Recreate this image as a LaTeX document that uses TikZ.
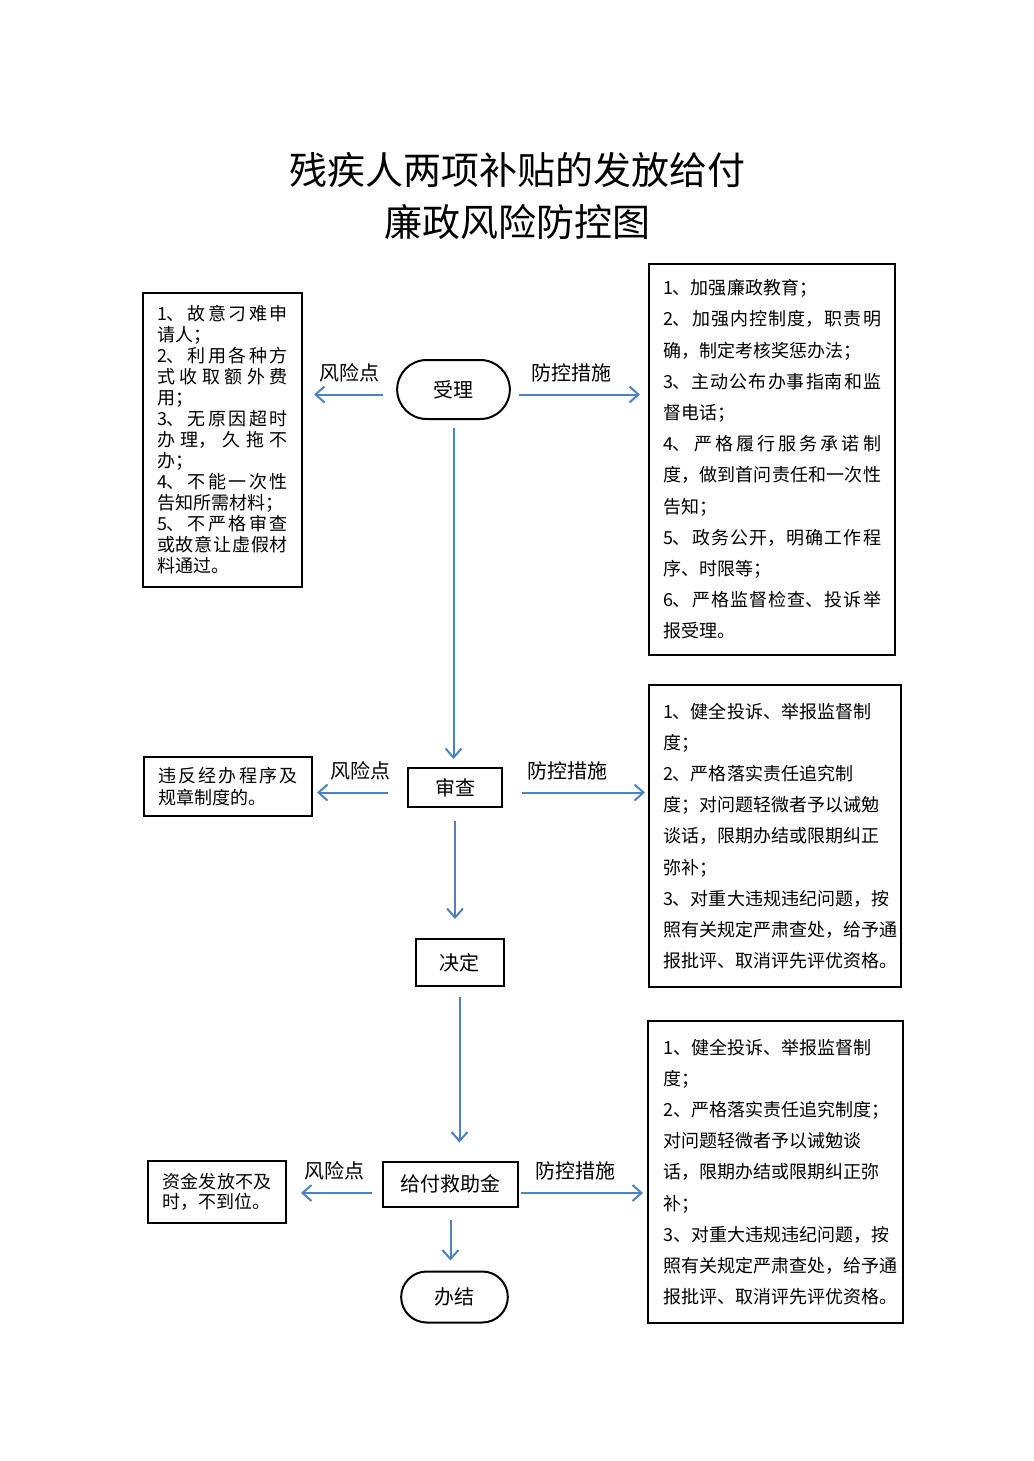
\documentclass[tikz,border=0pt]{standalone}
\usepackage{fontspec}
\usepackage{xcolor}
\setmainfont{Noto Sans CJK SC}
\usetikzlibrary{arrows.meta,shapes.misc}
\definecolor{bleu}{HTML}{4F81BD}
\XeTeXlinebreaklocale "zh"
\XeTeXlinebreakskip=0pt plus 2pt
\tolerance=10000

\begin{document}
\begin{tikzpicture}[x=0.5pt,y=-0.5pt,
   etape/.style={rectangle,draw,line width=1pt,font=\fontsize{10pt}{12pt}\selectfont},
   terminal/.style={rounded rectangle,draw,line width=1pt,font=\fontsize{10pt}{12pt}\selectfont},
   point risque/.style={draw,line width=1pt,inner xsep=7pt,inner ysep=0pt,align=justify},
   mesures/.style={draw,line width=1pt,inner xsep=7pt,inner ysep=0pt,align=justify,font=\fontsize{9pt}{15.6pt}\selectfont},
   mesures libres/.style={mesures,align=left,font=\fontsize{9pt}{15.6pt}\selectfont\XeTeXlinebreaklocale ""},
   fleche/.style={-{Straight Barb[length=4.5pt,width=8pt]},draw=bleu,line width=1pt},
   etiquette/.style={font=\fontsize{10pt}{12pt}\selectfont}]

  \useasboundingbox (0,0) rectangle (1033,1461);

  \node[align=center,font=\fontsize{19pt}{26pt}\selectfont](titre) at (517,196)
    {残疾人两项补贴的发放给付\\廉政风险防控图};

  % etapes
  \node[terminal,minimum width=63pt,minimum height=29.5pt](sl) at (453.5,389.5) {受理};
  \node[etape,minimum width=47pt,minimum height=19.5pt](sc) at (455,787.5) {审查};
  \node[etape,minimum width=44pt,minimum height=23.5pt](jd) at (459.5,962.5) {决定};
  \node[etape,minimum width=67.5pt,minimum height=22.5pt](gf) at (450.5,1184) {给付救助金};
  \node[terminal,minimum width=60pt,minimum height=25.5pt](bj) at (454.5,1297) {办结};

  % points de risque
  \node[point risque,text width=65.5pt,minimum height=147pt,font=\fontsize{9pt}{10.5pt}\selectfont](r1) at (222.5,440)
    {1、故意刁难申\linebreak 请人；\par
     2、利用各种方\linebreak 式收取额外费\linebreak 用；\par
     3、无原因超时\linebreak 办理，久拖不\linebreak 办；\par
     4、不能一次性\linebreak 告知所需材料；\par
     5、不严格审查\linebreak 或故意让虚假材\linebreak 料通过。};
  \node[point risque,text width=70pt,minimum height=29.5pt,font=\fontsize{9pt}{11pt}\selectfont](r2) at (228,786.5)
    {违反经办程序及\linebreak 规章制度的。};
  \node[point risque,text width=55pt,minimum height=31pt,font=\fontsize{9pt}{10pt}\selectfont](r3) at (217,1192)
    {资金发放不及\linebreak 时，不到位。};

  % mesures
  \node[mesures,text width=109pt,minimum height=195.5pt](m1) at (772,459.5)
    {1、加强廉政教育；\par
     2、加强内控制度，职责明\linebreak 确，制定考核奖惩办法；\par
     3、主动公布办事指南和监\linebreak 督电话；\par
     4、严格履行服务承诺制\linebreak 度，做到首问责任和一次性\linebreak 告知；\par
     5、政务公开，明确工作程\linebreak 序、时限等；\par
     6、严格监督检查、投诉举\linebreak 报受理。};
  \node[mesures libres,text width=112pt,minimum height=151pt](m2) at (775,836)
    {1、健全投诉、举报监督制\\度；\\2、严格落实责任追究制\\度；对问题轻微者予以诫勉\\谈话，限期办结或限期纠正\\弥补；\\3、对重大违规违纪问题，按\\照有关规定严肃查处，给予通\\报批评、取消评先评优资格。};
  \node[mesures libres,text width=112pt,inner xsep=7.75pt,minimum height=151pt](m3) at (775.5,1172)
    {1、健全投诉、举报监督制\\度；\\2、严格落实责任追究制度；\\对问题轻微者予以诫勉谈\\话，限期办结或限期纠正弥\\补；\\3、对重大违规违纪问题，按\\照有关规定严肃查处，给予通\\报批评、取消评先评优资格。};

  \foreach \from/\to/\s/\e in {sl/sc/4pt/4pt,sc/jd/6.5pt/9.5pt,jd/gf/5pt/9pt,gf/bj/6pt/5pt}
    \draw[fleche,shorten <=\s,shorten >=\e] (\from.south) -- (\from.south |- \to.north);

  \foreach \n/\r/\m/\dy/\a/\b/\c/\d in {sl/r1/m1/2.5pt/6.5pt/5.5pt/4pt/4pt,
      sc/r2/m2/2.5pt/9.5pt/2pt/9.5pt/1.5pt,gf/r3/m3/4.5pt/5pt/7pt/1pt/2pt} {
    \coordinate (g\n) at ([yshift=-\dy]\n.west);
    \coordinate (d\n) at ([yshift=-\dy]\n.east);
    \draw[fleche,shorten <=\a,shorten >=\b] (g\n) -- (g\n -| \r.east)
      node[etiquette,midway,yshift=11pt] {风险点};
    \draw[fleche,shorten <=\c,shorten >=\d] (d\n) -- (d\n -| \m.west)
      node[etiquette,midway,yshift=11pt,xshift=-4pt] {防控措施};
  }
\end{tikzpicture}
\end{document}
